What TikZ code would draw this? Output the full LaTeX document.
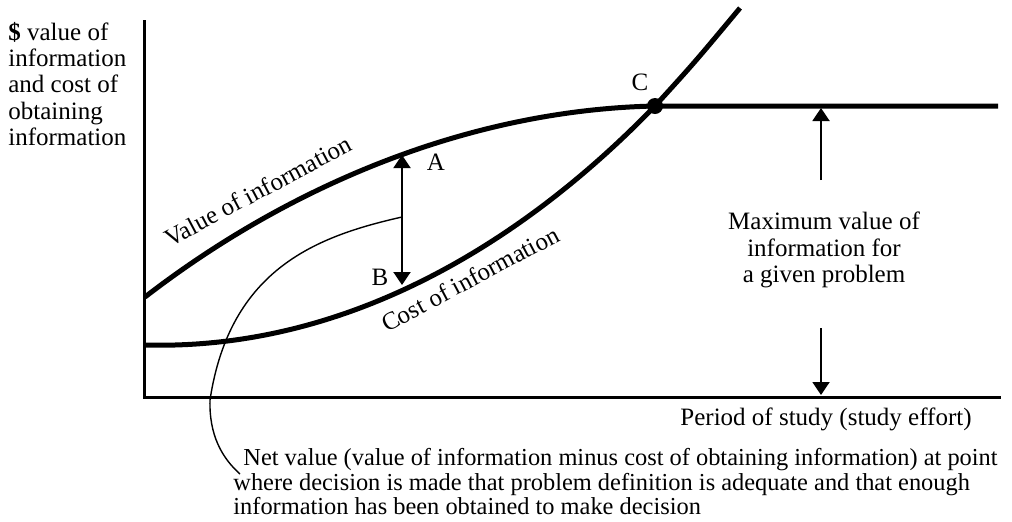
\documentclass[tikz,border=0pt]{standalone}
\usepackage{fontspec}
\setmainfont{Liberation Serif}
\usetikzlibrary{arrows.meta}
\tikzstyle{axis}=[line width=1.5pt]
\tikzstyle{curve}=[line width=2.5pt]
\tikzstyle{guide}=[line width=0.7pt]
\tikzstyle{marker}=[line width=1pt, -{Triangle[width=8.5pt,length=6.5pt]}]
\tikzstyle{twoway}=[line width=1pt, {Triangle[width=8.5pt,length=6.5pt]}-{Triangle[width=8.5pt,length=6.5pt]}]
\tikzstyle{lbl}=[inner sep=0pt, font=\fontsize{12.5}{13.1}\selectfont]
\tikzstyle{note}=[inner sep=0pt, align=left, font=\fontsize{12.2}{10.2}\selectfont]

\begin{document}
\begin{tikzpicture}[x=0.5pt, y=-0.5pt]
\useasboundingbox (0,0) rectangle (1012,521);

% axes
\coordinate (ytop) at (144,20);
\coordinate (o) at (144,397);
\coordinate (xend) at (1001,397);
\draw[axis] (ytop) -- (o) -- (xend);

% curves
\coordinate (v0) at (145,297);
\coordinate (c0) at (145,345);
\coordinate (cpt) at (655,106);
\coordinate (vend) at (998,106);
\coordinate (cend) at (740,8);
\draw[curve] (v0) .. controls (290,185) and (470,110) .. (cpt) -- (vend);
\draw[curve] (c0) .. controls (400,352) and (585,178) .. (cpt) .. controls (695,62) .. (cend);
\fill (cpt) circle (4pt);

% A-B gap and the net value pointer
\coordinate (a) at (402,155);
\coordinate (b) at (402,285);
\coordinate (n0) at (402,217);
\coordinate (n2) at (210,400);
\coordinate (n1) at (240,474);
\draw[twoway] (a) -- (b);
\draw[guide] (n0) .. controls (318,236) and (230,268) .. (n2) .. controls (209,435) and (222,458) .. (n1);

% maximum value arrows
\coordinate (m0) at (821,108);
\coordinate (m1) at (821,180);
\coordinate (m2) at (821,328);
\coordinate (m3) at (821,395);
\draw[marker] (m1) -- (m0);
\draw[marker] (m2) -- (m3);

% labels
\node[lbl, align=left, anchor=north west] (ylbl) at (8,22) {\textbf{\$} value of\\information\\and cost of\\obtaining\\information};
\node[lbl, rotate=28] (vlbl) at (258,191) {Value of information};
\node[lbl, rotate=28] (clbl) at (470,279) {Cost of information};
\node[lbl] (la) at (436,162) {A};
\node[lbl] (lb) at (380,277) {B};
\node[lbl] (lc) at (640,82) {C};
\node[lbl, align=center] (maxlbl) at (824,250) {Maximum value of\\information for\\a given problem};
\node[lbl, anchor=east] (perlbl) at (972,419) {Period of study (study effort)};
\node[note, anchor=north west] (netlbl) at (233,448) {\hspace*{5pt}Net value (value of information minus cost of obtaining information) at point\\where decision is made that problem definition is adequate and that enough\\information has been obtained to make decision};
\end{tikzpicture}
\end{document}
